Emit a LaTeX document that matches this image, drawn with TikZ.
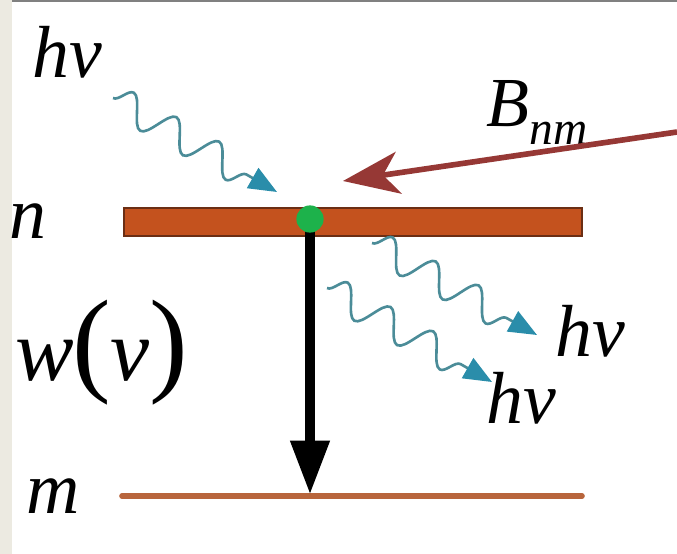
\documentclass[tikz,border=0pt]{standalone}
\usepackage{fontspec}
\setmainfont{Liberation Serif}
\usetikzlibrary{positioning,arrows.meta,decorations.pathmorphing}
\definecolor{lvbar}{HTML}{C4521E}
\definecolor{lvedge}{HTML}{6B2E14}
\definecolor{lvlow}{HTML}{B8653C}
\definecolor{atom}{HTML}{1DB24B}
\definecolor{wv}{HTML}{4B8C98}
\definecolor{wvtip}{HTML}{2A8DAA}
\definecolor{bnm}{HTML}{963835}
\definecolor{margin}{HTML}{ECEAE1}

\begin{document}
\begin{tikzpicture}[x=0.02cm, y=-0.02cm,
  lbl/.style={inner sep=0pt, anchor=base west, font=\fontsize{42}{50}\selectfont\itshape},
  photon/.style={draw=wv, line width=1.5pt, decorate,
                 decoration={snake, amplitude=8.5pt, segment length=28pt, post length=14pt},
                 -{Triangle[length=16pt, width=13pt, color=wvtip]}},
  decay/.style={line width=6.2pt, -{Triangle[length=31pt, width=21pt]}},
  pump/.style={draw=bnm, line width=3.2pt, {Stealth[length=32pt, width=24pt, inset=9pt]}-},
]
\useasboundingbox (0,0) rectangle (677,554);

% ---------- Rand ----------
\fill[margin] (0,0) rectangle (12,554);
\draw[gray, line width=1.1pt] (12,1) -- (677,1);

% ---------- Niveaus ----------
\draw[draw=lvedge, fill=lvbar, line width=0.8pt] (124,208) rectangle (582,236);
\draw[lvlow, line width=3.2pt, line cap=round] (122,496) -- (582,496);
\coordinate (ndot) at (310,219);
\coordinate (mhit) at (310,495);

% ---------- Labels ----------
\node[lbl] (hvin) at (32,78) {hv};
\node[lbl] (nlbl) at (9,238) {n};
\node[lbl] (mlbl) at (26,513) {m};
\node[lbl, font=\fontsize{40}{48}\selectfont\itshape] (blbl) at (486,127)
  {B\raisebox{-10pt}{\fontsize{27}{30}\selectfont nm}};
\node[lbl, font=\fontsize{50}{60}\selectfont\itshape] (wlbl) at (15,380)
  {w\kern-1pt{\upshape\fontsize{66}{70}\selectfont(}v{\upshape\fontsize{66}{70}\selectfont)}};
\node[lbl] (hvout1) at (555,357) {hv};
\node[lbl] (hvout2) at (486,423) {hv};

% ---------- Photonen ----------
\coordinate (in0) at (113,98);   \coordinate (in1) at (277,192);
\coordinate (outa0) at (372,243); \coordinate (outa1) at (537,335);
\coordinate (outb0) at (327,288); \coordinate (outb1) at (492,382);
\draw[photon] (in0) -- (in1);
\draw[photon] (outa0) -- (outa1);
\draw[photon] (outb0) -- (outb1);

% ---------- Pfeile ----------
\coordinate (bsrc) at (677,132);
\coordinate (bhit) at (343,181);
\draw[pump] (bhit) -- (bsrc);
\draw[decay] (ndot) -- (mhit);
\node[circle, fill=atom, minimum size=15.5pt, inner sep=0pt] (dot) at (ndot) {};
\end{tikzpicture}
\end{document}
